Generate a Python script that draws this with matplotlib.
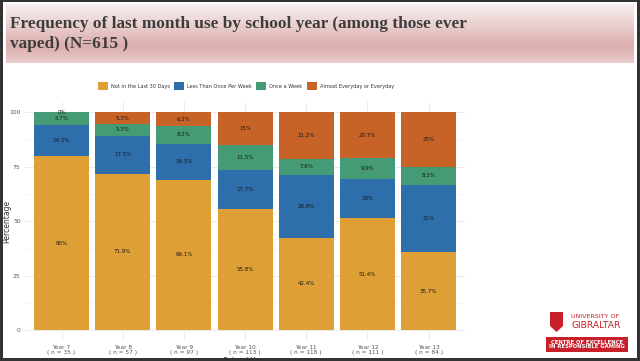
import matplotlib
matplotlib.use('Agg')
import matplotlib.pyplot as plt
import numpy as np
from matplotlib.patches import Rectangle, Polygon, Patch
from matplotlib.colors import LinearSegmentedColormap

# data
years = ['Year 7', 'Year 8', 'Year 9', 'Year 10', 'Year 11', 'Year 12', 'Year 13']
n_counts = [35, 57, 97, 113, 118, 111, 84]
categories = ['Not in the Last 30 Days', 'Less Than Once Per Week',
              'Once a Week', 'Almost Everyday or Everyday']
not_last_30 = [80, 71.9, 69.1, 55.8, 42.4, 51.4, 35.7]
less_than_weekly = [14.3, 17.5, 16.5, 17.7, 28.8, 18, 31]
once_a_week = [5.7, 5.3, 8.2, 11.5, 7.6, 9.9, 8.3]
almost_daily = [0, 5.3, 6.2, 15, 21.2, 20.7, 25]

series = [not_last_30, less_than_weekly, once_a_week, almost_daily]
colors = ['#DD9F36', '#2D6EAB', '#459B76', '#C86328']

W, H = 640, 361
fig = plt.figure(figsize=(6.4, 3.61), dpi=100)
fig.patch.set_facecolor('white')


def fx(px):
    return px / W


def fy(py):
    return 1 - py / H


# title banner with vertical gradient
bax = fig.add_axes([fx(5.5), fy(63), fx(633) - fx(5.5), fy(4) - fy(63)])
grad = LinearSegmentedColormap.from_list(
    'banner', [(0, '#f8efef'), (0.72, '#dcaeae'), (1, '#e9caca')])
bax.imshow(np.linspace(0, 1, 100).reshape(-1, 1), aspect='auto', cmap=grad,
           extent=[0, 1, 0, 1], origin='upper')
bax.set_axis_off()
fig.text(fx(10), fy(34), 'Frequency of last month use by school year (among those ever\nvaped) (N=615 )',
         family='Liberation Serif', fontweight='bold', fontsize=12.4, color='#3d3d3d',
         va='center', ha='left', linespacing=1.4)

# main chart
ax = fig.add_axes([fx(24.8), fy(341), fx(465.4) - fx(24.8), fy(101.6) - fy(341)])
x = np.arange(1, len(years) + 1)
bottom = np.zeros(len(years))
for vals, col in zip(series, colors):
    vals = np.array(vals, dtype=float)
    ax.bar(x, vals, width=0.9, bottom=bottom, color=col, linewidth=0, zorder=2)
    for xi, b, v in zip(x, bottom, vals):
        ax.text(xi, b + v / 2, f'{v:g}%', ha='center', va='center',
                fontsize=4.0, color='#1a1a1a', zorder=3)
    bottom += vals

ax.set_xlim(0.4, 7.6)
ax.set_ylim(-5, 105)
ax.set_yticks([0, 25, 50, 75, 100])
ax.set_yticks([12.5, 37.5, 62.5, 87.5], minor=True)
ax.set_xticks(x)
ax.set_xticklabels([f'{y}\n( n = {n} )' for y, n in zip(years, n_counts)],
                   fontsize=4.2, color='#555555', linespacing=1.0)
ax.tick_params(axis='both', which='both', length=0, pad=3)
ax.tick_params(axis='y', labelsize=4.3, labelcolor='#555555')
ax.grid(True, which='major', color='#ebebeb', linewidth=0.7, zorder=0)
ax.grid(True, which='minor', axis='y', color='#f2f2f2', linewidth=0.4, zorder=0)
for s in ax.spines.values():
    s.set_visible(False)
ax.set_axisbelow(True)

fig.text(fx(7), fy(221), 'Percentage', rotation=90, fontsize=5.5, color='#333333',
         ha='center', va='center')
fig.text(fx(245), fy(356.5), 'School Year', fontsize=5.5, color='#333333',
         ha='center', va='top')

handles = [Patch(facecolor=c, edgecolor='none') for c in colors]
fig.legend(handles, categories, loc='center', bbox_to_anchor=(fx(246), fy(86)),
           ncol=4, frameon=False, fontsize=3.6, handlelength=2.0, handleheight=2.0,
           handletextpad=0.6, columnspacing=0.9, labelcolor='#333333')

# logo block
red = '#C8202A'
fig.patches.append(Polygon([[fx(550), fy(312)], [fx(563), fy(312)], [fx(563), fy(326)],
                            [fx(556.5), fy(332)], [fx(550), fy(326)]],
                           closed=True, facecolor=red, edgecolor='none',
                           transform=fig.transFigure))
fig.text(fx(571), fy(316), 'UNIVERSITY OF', fontsize=4.6, color=red, ha='left', va='center')
fig.text(fx(571), fy(326), 'GIBRALTAR', fontsize=6.6, color=red, ha='left', va='center')
fig.patches.append(Rectangle((fx(546), fy(352)), fx(628) - fx(546), fy(337) - fy(352),
                             facecolor=red, edgecolor='none', transform=fig.transFigure))
fig.text(fx(587), fy(344.5), 'CENTRE OF EXCELLENCE\nIN RESPONSIBLE GAMING', fontsize=3.8,
         fontweight='bold', color='white', ha='center', va='center', linespacing=0.95)

# dark slide frame
frame = '#333333'
for rx, ry, rw, rh in [(0, 0, 3, H), (637, 0, 3, H), (0, 0, W, 1.5), (0, 358, W, 3)]:
    fig.patches.append(Rectangle((fx(rx), fy(ry + rh)), fx(rw), rh / H,
                                 facecolor=frame, edgecolor='none',
                                 transform=fig.transFigure, zorder=10))

fig.savefig('out.png', dpi=100)
